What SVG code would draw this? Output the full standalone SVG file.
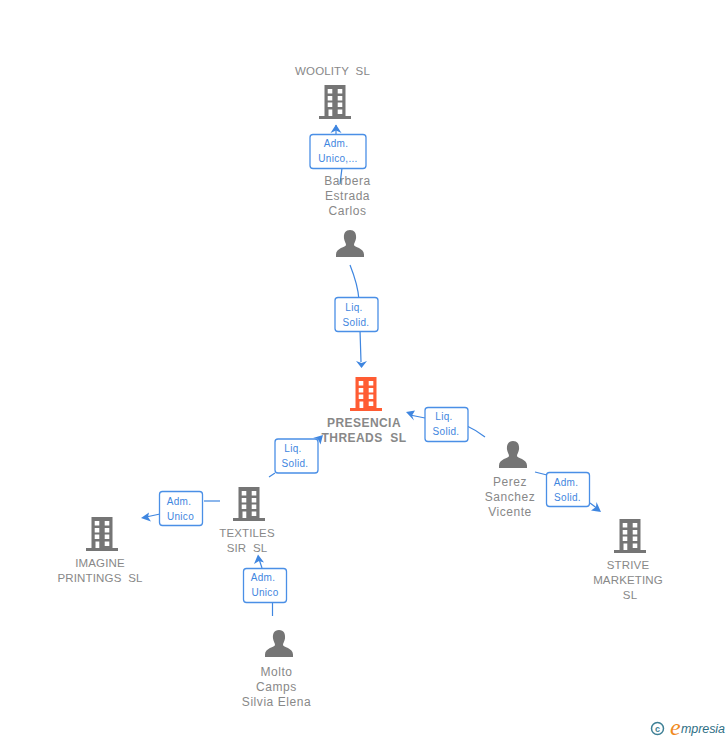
<svg xmlns="http://www.w3.org/2000/svg" width="728" height="740" viewBox="0 0 728 740">
<style>
text{font-family:"Liberation Sans",Arial,sans-serif;white-space:pre}
.n{font-size:12px;fill:#888;text-anchor:middle;letter-spacing:.55px}
.u{font-size:11.5px;fill:#888;text-anchor:middle;letter-spacing:.15px}
.b{font-size:12px;font-weight:bold;fill:#888;text-anchor:middle;letter-spacing:.45px}
.l{font-size:10px;fill:#3f86e0;text-anchor:middle;letter-spacing:.3px}
.box{fill:#fff;stroke:#4a8fe6;stroke-width:1.3}
.c{fill:none;stroke:#3f86e0;stroke-width:1.2}
.a{fill:#3f86e0}
</style>
<defs>
<g id="bld"><path d="M-10.500-17H10.500V14H16V17H-16V14H-10.500Z M-7.300-12.900V-8.500H-2.700V-12.900Z M2.700-12.900V-8.500H7.300V-12.900Z M-7.300-6V-1.600H-2.700V-6Z M2.700-6V-1.600H7.300V-6Z M-7.300,.6V5H-2.700V.6Z M2.700,.6V5H7.300V.6Z M-6.500,7.500V14H-2.700V7.500Z M2.700,7.500V12H7.300V7.500Z" fill-rule="evenodd"/></g>
<g id="per"><path d="M0-14C5-14 6.500-10 6-5.500C5.500-2.500 4-1 4,1C4,3 14,4 14,10.500V13H-14V10.500C-14,4 -4,3 -4,1C-4-1 -5.500-2.500 -6-5.500C-6.500-10 -5-14 0-14Z"/></g>
</defs>
<g id="connectors">
<path class="c" d="M342 168Q341 176 340 184"/>
<path class="c" d="M336 134V125"/><path class="a" d="M336 124.500L341.500 133L336 130.500L330.500 133Z"/>
<path class="c" d="M350 265Q358 285 359 300"/>
<path class="c" d="M360 330L361 362"/><path class="a" d="M361.500 368L356 361L361.500 363L367 361Z"/>
<path class="c" d="M485 437Q476 430 467 426"/>
<path class="c" d="M425 418L410 415"/><path class="a" d="M406 412L415 410.500L412 415.500L414 420.500Z"/>
<path class="c" d="M535 472L547 475"/>
<path class="c" d="M590 503L598 509"/><path class="a" d="M601 512L591 510.500L596 507L596.500 502Z"/>
<path class="c" d="M269 477L275 473"/>
<path class="c" d="M316 442L320 437"/><path class="a" d="M323 435L320.500 444.500L318 439L313 438Z"/>
<path class="c" d="M220 501H204"/>
<path class="c" d="M160 514L146 517"/><path class="a" d="M141 518L149 512.500L148 517L151 521.500Z"/>
<path class="c" d="M272.500 602V616"/>
<path class="c" d="M262 568L259 559"/><path class="a" d="M258 554.500L264 562.500L259 561L254 564Z"/>
</g>
<g id="woolity"><text class="u" x="332.500" y="75">WOOLITY  SL</text><use href="#bld" x="335" y="102" fill="#757575"/></g>
<g id="barbera"><text class="n" x="347.500" y="185">Barbera</text><text class="n" x="347.500" y="200">Estrada</text><text class="n" x="347.500" y="215">Carlos</text><use href="#per" x="350" y="244" fill="#757575"/></g>
<g id="presencia"><use href="#bld" x="366" y="394" fill="#ff5c33"/><text class="b" x="364" y="427">PRESENCIA</text><text class="b" x="364" y="442">THREADS  SL</text></g>
<g id="perez"><use href="#per" x="513" y="455" fill="#757575"/><text class="n" x="510" y="486">Perez</text><text class="n" x="510" y="501">Sanchez</text><text class="n" x="510" y="516">Vicente</text></g>
<g id="strive"><use href="#bld" x="630" y="536" fill="#757575"/><text class="u" x="628" y="569">STRIVE</text><text class="u" x="628" y="584">MARKETING</text><text class="u" x="630" y="599">SL</text></g>
<g id="textiles"><use href="#bld" x="249" y="504" fill="#757575"/><text class="u" x="247" y="537">TEXTILES</text><text class="u" x="247" y="552">SIR  SL</text></g>
<g id="imagine"><use href="#bld" x="102" y="534" fill="#757575"/><text class="u" x="100" y="567">IMAGINE</text><text class="u" x="100" y="582">PRINTINGS  SL</text></g>
<g id="molto"><use href="#per" x="279" y="644" fill="#757575"/><text class="n" x="276.500" y="676">Molto</text><text class="n" x="276.500" y="691">Camps</text><text class="n" x="276.500" y="706">Silvia Elena</text></g>
<g id="labels">
<rect class="box" x="310" y="134.500" width="56" height="34" rx="3"/><text class="l" x="336" y="147">Adm.</text><text class="l" x="338" y="162">Unico,...</text>
<rect class="box" x="335" y="297.500" width="43" height="34" rx="3"/><text class="l" x="354" y="311">Liq.</text><text class="l" x="356" y="326">Solid.</text>
<rect class="box" x="425" y="407.500" width="43" height="34" rx="3"/><text class="l" x="444" y="420">Liq.</text><text class="l" x="446" y="435">Solid.</text>
<rect class="box" x="546.500" y="472.500" width="43" height="34" rx="3"/><text class="l" x="566" y="486">Adm.</text><text class="l" x="567.500" y="501">Solid.</text>
<rect class="box" x="275" y="439" width="43" height="34" rx="3"/><text class="l" x="293" y="452">Liq.</text><text class="l" x="295" y="467">Solid.</text>
<rect class="box" x="159.500" y="491.500" width="43" height="34" rx="3"/><text class="l" x="179" y="505">Adm.</text><text class="l" x="180.500" y="520">Unico</text>
<rect class="box" x="243.500" y="568.500" width="43" height="34" rx="3"/><text class="l" x="263" y="581">Adm.</text><text class="l" x="265" y="596">Unico</text>
</g>
<g id="logo">
<circle cx="657.500" cy="728.500" r="6" fill="none" stroke="#3d7f95" stroke-width="1.500"/><text x="657.500" y="731.500" font-size="9" font-weight="bold" fill="#3d7f95" text-anchor="middle">c</text>
<text x="670" y="735" font-size="24" font-style="italic" fill="#f08a1d" style="font-family:'Liberation Serif',serif">e</text>
<text x="681" y="733" font-size="12.500" font-style="italic" fill="#2f6f85" textLength="44">mpresia</text>
</g>
</svg>
